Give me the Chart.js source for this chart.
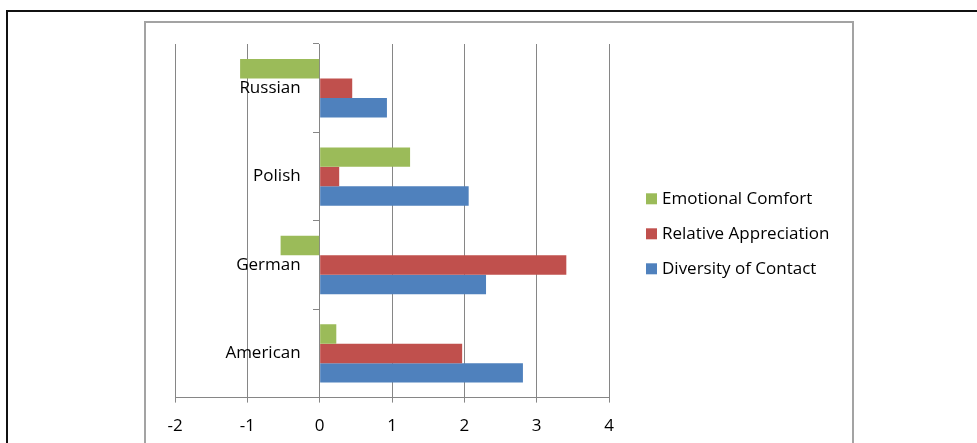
<!DOCTYPE html>
<html>
<head>
<meta charset="utf-8">
<script src="https://cdn.jsdelivr.net/npm/chart.js@4.4.1/dist/chart.umd.min.js"></script>
<style>
	body { margin: 0; background: #fff; overflow: hidden; width: 977px; height: 443px; position: relative; }
	#outer { position: absolute; left: 6px; top: 10px; width: 1000px; height: 500px; border-top: 2px solid #111; border-left: 2px solid #111; }
	#inner { position: absolute; left: 144px; top: 21px; width: 706px; height: 500px; border: 2px solid #a3a3a3; }
	canvas { position: absolute; left: 0; top: 0; }
</style>
</head>
<body>
<div id="outer"></div>
<div id="inner"></div>
<canvas id="chart1" width="977" height="443"></canvas>
<script>
//============ data ============
const countries = ['Russian', 'Polish', 'German', 'American'];
const emotionalComfort = [-1.10, 1.25, -0.54, 0.23];
const relativeAppreciation = [0.45, 0.27, 3.41, 1.97];
const diversityOfContact = [0.93, 2.06, 2.30, 2.81];
const xTicks = [-2, -1, 0, 1, 2, 3, 4];
//===================================================

const gridColor = '#868686';
Chart.defaults.font.family = '"Open Sans"';
Chart.defaults.font.size = 17;
Chart.defaults.color = '#000';

// category names sit left of the axis at x=0, legend at the right of the plot
const sideText = {
	id: 'sideText',
	afterDraw(chart) {
		const ctx = chart.ctx;
		const area = chart.chartArea;
		const yScale = chart.scales.y;
		const axisX = chart.scales.x.getPixelForValue(0);
		ctx.save();
		ctx.font = '17px "Open Sans"';
		ctx.textBaseline = 'middle';
		ctx.fillStyle = '#000';
		ctx.textAlign = 'right';
		chart.data.labels.forEach((lab, i) => {
			ctx.fillText(lab, axisX - 19, yScale.getPixelForTick(i));
		});
		//----------- legend -----------
		ctx.textAlign = 'left';
		const x = area.right + 37;
		const midY = (area.top + area.bottom) / 2 + 13;
		chart.data.datasets.forEach((ds, i) => {
			const y = midY + (i - 1) * 35;
			ctx.fillStyle = ds.backgroundColor;
			ctx.fillRect(x, y - 5.5, 11, 11);
			ctx.fillStyle = '#000';
			ctx.fillText(ds.label, x + 16, y);
		});
		ctx.restore();
	}
};

const ctx = document.getElementById('chart1').getContext('2d');
const myChart = new Chart(ctx, {
	type: 'bar',
	data: {
		labels: countries,
		datasets: [
			{
				label: 'Emotional Comfort',
				data: emotionalComfort,
				backgroundColor: '#9bbb59',
			},
			{
				label: 'Relative Appreciation',
				data: relativeAppreciation,
				backgroundColor: '#c0504d',
			},
			{
				label: 'Diversity of Contact',
				data: diversityOfContact,
				backgroundColor: '#4f81bd',
			}
		]
	},
	options: {
		indexAxis: 'y',
		responsive: false,
		animation: false,
		categoryPercentage: 0.661,
		barPercentage: 1,
		layout: {
			padding: { left: 175, top: 44, right: 368, bottom: -6 }
		},
		plugins: {
			legend: { display: false },
			tooltip: { enabled: false }
		},
		scales: {
			x: {
				min: xTicks[0],
				max: xTicks[xTicks.length - 1],
				ticks: { stepSize: 1, padding: 13 },
				grid: { color: gridColor, tickLength: 5 },
				border: { color: gridColor }
			},
			y: {
				position: { x: 0 },
				grid: { drawOnChartArea: false, tickLength: 6, color: gridColor },
				border: { color: gridColor },
				ticks: { display: false }
			}
		}
	},
	plugins: [sideText]
});
</script>
</body>
</html>
